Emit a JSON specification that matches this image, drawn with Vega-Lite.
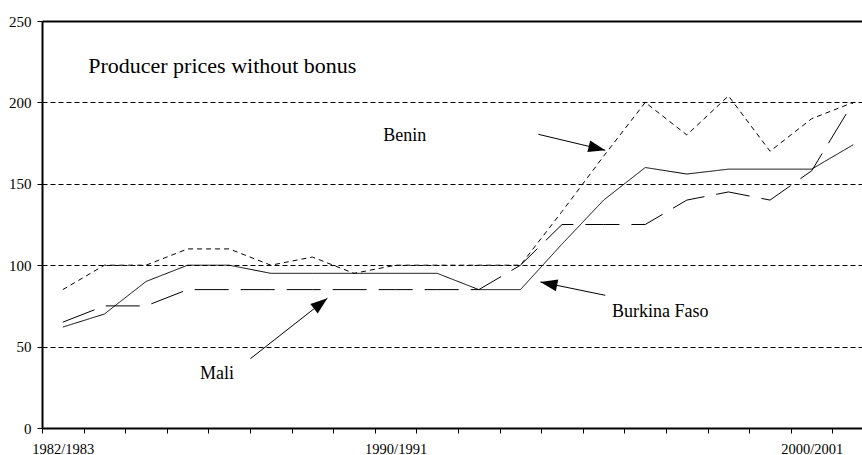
{
  "$schema": "https://vega.github.io/schema/vega-lite/v6.json",
  "autosize": {"type": "none"},
  "width": 820,
  "height": 407,
  "padding": {"left": 42, "top": 21, "right": 0, "bottom": 27},
  "background": "white",
  "config": {
    "view": {"stroke": null},
    "text": {"font": "Liberation Serif", "color": "black"}
  },
  "datasets": {
    "prices": [
      {"year": 1982.5, "country": "Benin", "price": 85},
      {"year": 1983.5, "country": "Benin", "price": 100},
      {"year": 1984.5, "country": "Benin", "price": 100},
      {"year": 1985.5, "country": "Benin", "price": 110},
      {"year": 1986.5, "country": "Benin", "price": 110},
      {"year": 1987.5, "country": "Benin", "price": 100},
      {"year": 1988.5, "country": "Benin", "price": 105},
      {"year": 1989.5, "country": "Benin", "price": 95},
      {"year": 1990.5, "country": "Benin", "price": 100},
      {"year": 1991.5, "country": "Benin", "price": 100},
      {"year": 1992.5, "country": "Benin", "price": 100},
      {"year": 1993.5, "country": "Benin", "price": 100},
      {"year": 1994.5, "country": "Benin", "price": 133},
      {"year": 1995.5, "country": "Benin", "price": 167},
      {"year": 1996.5, "country": "Benin", "price": 200},
      {"year": 1997.5, "country": "Benin", "price": 180},
      {"year": 1998.5, "country": "Benin", "price": 204},
      {"year": 1999.5, "country": "Benin", "price": 170},
      {"year": 2000.5, "country": "Benin", "price": 190},
      {"year": 2001.5, "country": "Benin", "price": 200},
      {"year": 1982.5, "country": "Burkina Faso", "price": 62},
      {"year": 1983.5, "country": "Burkina Faso", "price": 70},
      {"year": 1984.5, "country": "Burkina Faso", "price": 90},
      {"year": 1985.5, "country": "Burkina Faso", "price": 100},
      {"year": 1986.5, "country": "Burkina Faso", "price": 100},
      {"year": 1987.5, "country": "Burkina Faso", "price": 95},
      {"year": 1988.5, "country": "Burkina Faso", "price": 95},
      {"year": 1989.5, "country": "Burkina Faso", "price": 95},
      {"year": 1990.5, "country": "Burkina Faso", "price": 95},
      {"year": 1991.5, "country": "Burkina Faso", "price": 95},
      {"year": 1992.5, "country": "Burkina Faso", "price": 85},
      {"year": 1993.5, "country": "Burkina Faso", "price": 85},
      {"year": 1994.5, "country": "Burkina Faso", "price": 113},
      {"year": 1995.5, "country": "Burkina Faso", "price": 140},
      {"year": 1996.5, "country": "Burkina Faso", "price": 160},
      {"year": 1997.5, "country": "Burkina Faso", "price": 156},
      {"year": 1998.5, "country": "Burkina Faso", "price": 159},
      {"year": 1999.5, "country": "Burkina Faso", "price": 159},
      {"year": 2000.5, "country": "Burkina Faso", "price": 159},
      {"year": 2001.5, "country": "Burkina Faso", "price": 174},
      {"year": 1982.5, "country": "Mali", "price": 65},
      {"year": 1983.5, "country": "Mali", "price": 75},
      {"year": 1984.5, "country": "Mali", "price": 75},
      {"year": 1985.5, "country": "Mali", "price": 85},
      {"year": 1986.5, "country": "Mali", "price": 85},
      {"year": 1987.5, "country": "Mali", "price": 85},
      {"year": 1988.5, "country": "Mali", "price": 85},
      {"year": 1989.5, "country": "Mali", "price": 85},
      {"year": 1990.5, "country": "Mali", "price": 85},
      {"year": 1991.5, "country": "Mali", "price": 85},
      {"year": 1992.5, "country": "Mali", "price": 85},
      {"year": 1993.5, "country": "Mali", "price": 100},
      {"year": 1994.5, "country": "Mali", "price": 125},
      {"year": 1995.5, "country": "Mali", "price": 125},
      {"year": 1996.5, "country": "Mali", "price": 125},
      {"year": 1997.5, "country": "Mali", "price": 140},
      {"year": 1998.5, "country": "Mali", "price": 145},
      {"year": 1999.5, "country": "Mali", "price": 140},
      {"year": 2000.5, "country": "Mali", "price": 158},
      {"year": 2001.5, "country": "Mali", "price": 200}
    ],
    "arrows": [
      {"name": "Benin", "x1": 1993.93, "y1": 180.4, "x2": 1995.54, "y2": 170.6, "angle": 103.4},
      {"name": "Burkina Faso", "x1": 1995.54, "y1": 81.5, "x2": 1993.98, "y2": 89.7, "angle": 281.6},
      {"name": "Mali", "x1": 1987.01, "y1": 42.6, "x2": 1988.86, "y2": 79.7, "angle": 51.9}
    ],
    "notes": [
      {"label": "Producer prices without bonus", "x": 1983.11, "y": 218, "size": 22},
      {"label": "Benin", "x": 1990.2, "y": 176, "size": 18},
      {"label": "Burkina Faso", "x": 1995.7, "y": 68.2, "size": 18},
      {"label": "Mali", "x": 1985.8, "y": 29.9, "size": 18}
    ]
  },
  "layer": [
    {
      "data": {"name": "prices"},
      "mark": {"type": "line", "color": "black", "strokeWidth": 1},
      "encoding": {
        "x": {
          "field": "year", "type": "quantitative", "title": null,
          "scale": {"domain": [1982, 2001.71], "nice": false, "zero": false},
          "axis": {
            "values": [1982, 1983, 1984, 1985, 1986, 1987, 1988, 1989, 1990, 1991, 1992, 1993, 1994, 1995, 1996, 1997, 1998, 1999, 2000, 2001],
            "labelExpr": "indexof([1982, 1990, 2000], datum.value) >= 0 ? datum.value + '/' + (datum.value + 1) : ''",
            "labelOffset": 20.8,
            "labelFont": "Liberation Serif", "labelFontSize": 14.5, "labelColor": "black",
            "labelOverlap": false, "labelFlush": false, "labelBound": false,
            "labelPadding": 9,
            "tickSize": 5, "tickColor": "black", "tickWidth": 1,
            "domainColor": "black", "domainWidth": 2,
            "grid": false, "title": null
          }
        },
        "y": {
          "field": "price", "type": "quantitative", "title": null,
          "scale": {"domain": [0, 250], "nice": false},
          "axis": {
            "values": [0, 50, 100, 150, 200, 250],
            "labelFont": "Liberation Serif", "labelFontSize": 15, "labelColor": "black",
            "labelPadding": 6,
            "tickSize": 5, "tickColor": "black", "tickWidth": 1,
            "domainColor": "black", "domainWidth": 2,
            "grid": true, "gridColor": "black", "gridOpacity": 1,
            "gridDash": {"condition": {"test": "datum.value === 250", "value": []}, "value": [5, 3]},
            "gridWidth": {"condition": {"test": "datum.value === 250", "value": 2}, "value": 1},
            "title": null
          }
        },
        "strokeDash": {
          "field": "country", "type": "nominal", "legend": null,
          "scale": {"domain": ["Benin", "Burkina Faso", "Mali"], "range": [[5, 4], [1, 0], [34, 12]]}
        }
      }
    },
    {
      "data": {"name": "arrows"},
      "mark": {"type": "rule", "color": "black", "strokeWidth": 1},
      "encoding": {
        "x": {"field": "x1", "type": "quantitative", "title": null},
        "y": {"field": "y1", "type": "quantitative", "title": null},
        "x2": {"field": "x2"},
        "y2": {"field": "y2"}
      }
    },
    {
      "data": {"name": "arrows"},
      "mark": {"type": "point", "shape": "M0,0L0.7,2L-0.7,2Z", "filled": true, "color": "black", "opacity": 1, "size": 289, "strokeWidth": 0},
      "encoding": {
        "x": {"field": "x2", "type": "quantitative", "title": null},
        "y": {"field": "y2", "type": "quantitative", "title": null},
        "angle": {"field": "angle", "type": "quantitative", "scale": null}
      }
    },
    {
      "data": {"name": "notes"},
      "mark": {"type": "text", "align": "left", "baseline": "alphabetic", "font": "Liberation Serif", "color": "black"},
      "encoding": {
        "x": {"field": "x", "type": "quantitative", "title": null},
        "y": {"field": "y", "type": "quantitative", "title": null},
        "text": {"field": "label"},
        "size": {"field": "size", "type": "quantitative", "scale": null}
      }
    }
  ]
}
